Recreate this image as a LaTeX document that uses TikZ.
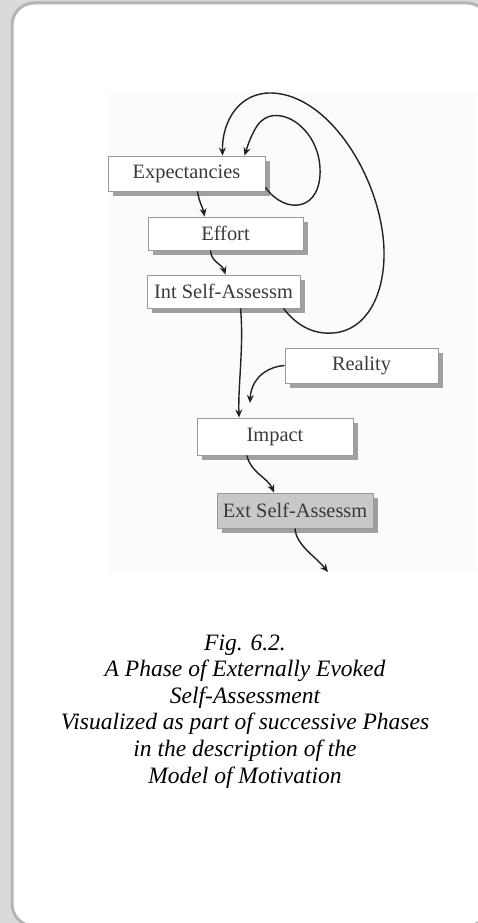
\documentclass[tikz,border=0pt]{standalone}
\usepackage{fontspec}
\setmainfont{Liberation Serif}
\usetikzlibrary{shadows,arrows.meta}
\definecolor{bggray}{HTML}{DADADA}
\definecolor{panelborder}{HTML}{B4B4B4}
\definecolor{imgbg}{HTML}{FBFBFB}
\definecolor{boxborder}{HTML}{9A9A9A}
\definecolor{boxtext}{HTML}{3A3A3A}
\definecolor{shadowgray}{HTML}{A0A0A0}
\definecolor{extfill}{HTML}{C8C8C8}
\definecolor{linecol}{HTML}{222222}
\begin{document}
\begin{tikzpicture}[x=1pt,y=-1pt,
  box/.style={draw=boxborder, line width=0.9pt, fill=white, rectangle, inner sep=0pt,
    minimum width=155pt, minimum height=34pt, font=\fontsize{20.4}{24}\selectfont, text=boxtext,
    drop shadow={shadow xshift=5pt, shadow yshift=-5pt, fill=shadowgray, opacity=1}},
  arr/.style={draw=linecol, line width=1.4pt, -{Stealth[length=8pt,width=7pt]}},
  captext/.style={font=\fontsize{23.5}{27}\selectfont\itshape, anchor=base, inner sep=0pt}
]
\useasboundingbox (0,0) rectangle (478,923);
\fill[bggray] (0,0) rectangle (478,923);
\draw[panelborder, line width=3pt, fill=white, rounded corners=22pt] (12,3) rectangle (489,926);
\fill[imgbg] (108,92) rectangle (476.5,573);

\node[box, minimum width=157pt, minimum height=35pt] (exp) at (186.5,173.5) {Expectancies};
\node[box, minimum width=155pt, minimum height=33pt] (eff) at (225.5,233.5) {Effort};
\node[box, minimum width=153pt, minimum height=33pt] (int) at (223.5,291.5) {Int Self-Assessm};
\node[box, minimum width=153pt, minimum height=35pt] (real) at (361.5,365.5) {Reality};
\node[box, minimum width=156pt, minimum height=37pt] (imp) at (275,436.5) {Impact};
\node[box, fill=extfill, minimum width=156pt, minimum height=35pt] (ext) at (295,510.5) {Ext Self-Assessm};

\coordinate (rend) at (250,403);
\coordinate (xend) at (328,572);

\draw[arr] ([xshift=11pt]exp.south) .. controls (199,202) and (203,208) .. ([xshift=-21pt]eff.north);
\draw[arr] ([xshift=-15pt]eff.south) .. controls (211,262) and (222,264) .. ([xshift=2pt]int.north);
\draw[arr] ([xshift=17pt]int.south) .. controls (244,345) and (238,385) .. ([xshift=-36pt]imp.north);
\draw[arr] (real.west) .. controls (265,367) and (251,380) .. (rend);
\draw[arr] ([xshift=-28pt]imp.south) .. controls (250,472) and (268,478) .. ([xshift=-21pt]ext.north);
\draw[arr] (ext.south) .. controls (296,545) and (315,556) .. (xend);
\draw[arr] ([yshift=4pt]exp.south east) .. controls (285,215) and (322,212) .. (320,168)
  .. controls (318,125) and (274,100) .. (257,126) .. controls (250,137) and (247,148) .. ([xshift=58pt]exp.north);
\draw[arr] ([xshift=60pt]int.south) .. controls (300,330) and (320,336) .. (340,332)
  .. controls (370,325) and (385,290) .. (384,250) .. controls (382,180) and (330,95) .. (272,93)
  .. controls (240,92) and (222,120) .. ([xshift=36pt]exp.north);

\node[captext] (c1) at (245,650) {Fig. 6.2.};
\node[captext] (c2) at (245,676.6) {A Phase of Externally Evoked};
\node[captext] (c3) at (245,703.2) {Self-Assessment};
\node[captext] (c4) at (245,729.8) {Visualized as part of successive Phases};
\node[captext] (c5) at (245,756.4) {in the description of the};
\node[captext] (c6) at (245,783) {Model of Motivation};
\end{tikzpicture}
\end{document}
